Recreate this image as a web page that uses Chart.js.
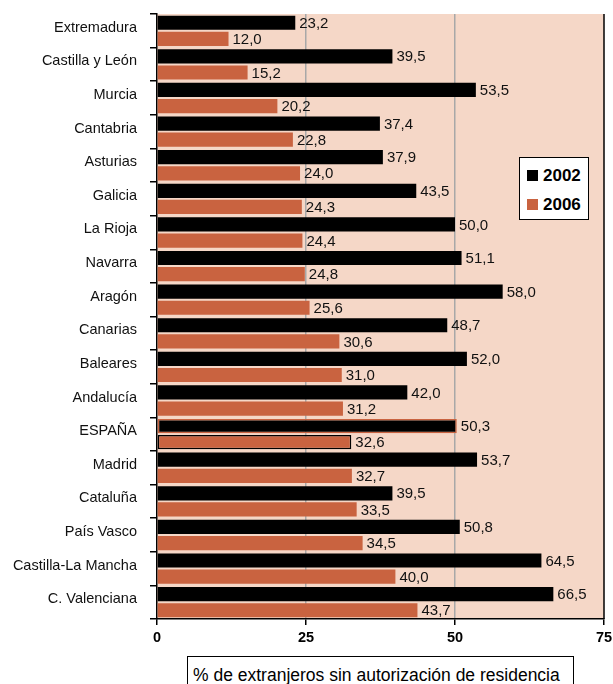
<!DOCTYPE html>
<html>
<head>
<meta charset="utf-8">
<script src="https://cdn.jsdelivr.net/npm/chart.js@4.4.1/dist/chart.umd.min.js"></script>
<style>
  body { margin: 0; background: #fff; font-family: "Liberation Sans", Arial, sans-serif; }
  #wrap { position: relative; width: 613px; height: 684px; overflow: hidden; }
  #legendBox {
    position: absolute; left: 519px; top: 157px; width: 68px; height: 61px;
    background: #fff; border: 1.5px solid #000;
  }
  .item { position: absolute; left: 7px; font-weight: bold; font-size: 17px; line-height: 17px; }
  .item span { display: inline-block; width: 11px; height: 11px; margin-right: 5px; vertical-align: 0px; }
  #axisTitle {
    position: absolute; left: 187px; top: 656px; width: 387px; height: 40px;
    border: 1px solid #000; background: #fff; font-size: 17.5px; padding: 8px 0 0 5px; box-sizing: border-box;
  }
</style>
</head>
<body>
<div id="wrap">
  <canvas id="barChart"></canvas>
  <div id="legendBox">
    <div class="item" style="top:9px"><span style="background:#000"></span>2002</div>
    <div class="item" style="top:38px"><span style="background:#c96340"></span>2006</div>
  </div>
  <div id="axisTitle">% de extranjeros sin autorización de residencia</div>
</div>
<script>
// Data
var regions = ['Extremadura', 'Castilla y León', 'Murcia', 'Cantabria', 'Asturias', 'Galicia',
  'La Rioja', 'Navarra', 'Aragón', 'Canarias', 'Baleares', 'Andalucía', 'ESPAÑA', 'Madrid',
  'Cataluña', 'País Vasco', 'Castilla-La Mancha', 'C. Valenciana'];
var values2002 = [23.2, 39.5, 53.5, 37.4, 37.9, 43.5, 50.0, 51.1, 58.0, 48.7, 52.0, 42.0, 50.3, 53.7, 39.5, 50.8, 64.5, 66.5];
var values2006 = [12.0, 15.2, 20.2, 22.8, 24.0, 24.3, 24.4, 24.8, 25.6, 30.6, 31.0, 31.2, 32.6, 32.7, 33.5, 34.5, 40.0, 43.7];
var xTicks = [0, 25, 50, 75];

var black = '#000000';
var orange = '#c96340';

// ESPAÑA bars get a contrasting outline
var border2002 = regions.map(function (r) { return r === 'ESPAÑA' ? orange : black; });
var border2006 = regions.map(function (r) { return r === 'ESPAÑA' ? black : orange; });
var bw = regions.map(function (r) { return r === 'ESPAÑA' ? 1.5 : 0; });

var bgPlugin = {
  id: 'plotBg',
  beforeDraw: function (chart) {
    var a = chart.chartArea, c = chart.ctx;
    c.save();
    c.fillStyle = '#f5d7c7';
    c.fillRect(a.left, a.top, a.right - a.left, a.bottom - a.top);
    c.restore();
  },
  afterDraw: function (chart) {
    var a = chart.chartArea, c = chart.ctx;
    c.save();
    c.strokeStyle = '#000';
    c.lineWidth = 1.5;
    c.beginPath();
    c.moveTo(a.right, a.top);
    c.lineTo(a.right, a.bottom);
    c.stroke();
    c.restore();
  }
};

var labelPlugin = {
  id: 'valueLabels',
  afterDatasetsDraw: function (chart) {
    var c = chart.ctx;
    c.save();
    c.font = '15px "Liberation Sans", Arial, sans-serif';
    c.fillStyle = '#111';
    c.textBaseline = 'middle';
    c.textAlign = 'left';
    chart.data.datasets.forEach(function (ds, i) {
      chart.getDatasetMeta(i).data.forEach(function (bar, j) {
        c.fillText(ds.data[j].toFixed(1).replace('.', ','), bar.x + 4, bar.y + 1);
      });
    });
    c.restore();
  }
};

var ctx = document.getElementById('barChart').getContext('2d');
var myChart = new Chart(ctx, {
  type: 'bar',
  data: {
    labels: regions,
    datasets: [{
      label: '2002',
      data: values2002,
      backgroundColor: black,
      borderColor: border2002,
      borderWidth: bw,
      borderSkipped: false
    }, {
      label: '2006',
      data: values2006,
      backgroundColor: orange,
      borderColor: border2006,
      borderWidth: bw,
      borderSkipped: false
    }]
  },
  options: {
    indexAxis: 'y',
    responsive: true,
    maintainAspectRatio: false,
    animation: false,
    categoryPercentage: 0.96,
    barPercentage: 0.88,
    layout: { padding: { top: 14, right: 9, left: 0, bottom: 0 } },
    plugins: { legend: { display: false }, tooltip: { enabled: false } },
    scales: {
      x: {
        min: 0,
        max: 75,
        afterBuildTicks: function (scale) {
          scale.ticks = xTicks.map(function (v) { return { value: v }; });
        },
        afterFit: function (scale) {
          scale.height = 65;
          scale.paddingLeft = 0;
          scale.paddingRight = 0;
        },
        border: { display: true, color: '#000', width: 1.5 },
        grid: {
          color: function (c) {
            var v = c.tick ? c.tick.value : 0;
            return (v === 25 || v === 50) ? '#a8a8a8' : 'rgba(0,0,0,0)';
          },
          tickColor: '#000',
          tickLength: 6,
          lineWidth: 1.5
        },
        ticks: {
          color: '#000',
          padding: 4,
          font: { family: '"Liberation Sans", Arial, sans-serif', size: 14.5, weight: 'bold' }
        }
      },
      y: {
        afterFit: function (scale) {
          scale.width = 157;
          scale.paddingTop = 0;
          scale.paddingBottom = 0;
        },
        border: { display: true, color: '#000', width: 1.5 },
        grid: {
          offset: true,
          drawOnChartArea: false,
          tickColor: '#000',
          tickLength: 7,
          lineWidth: 1.5
        },
        ticks: {
          color: '#111',
          padding: 13,
          labelOffset: -3,
          font: { family: '"Liberation Sans", Arial, sans-serif', size: 14.5 }
        }
      }
    }
  },
  plugins: [bgPlugin, labelPlugin]
});
</script>
</body>
</html>
